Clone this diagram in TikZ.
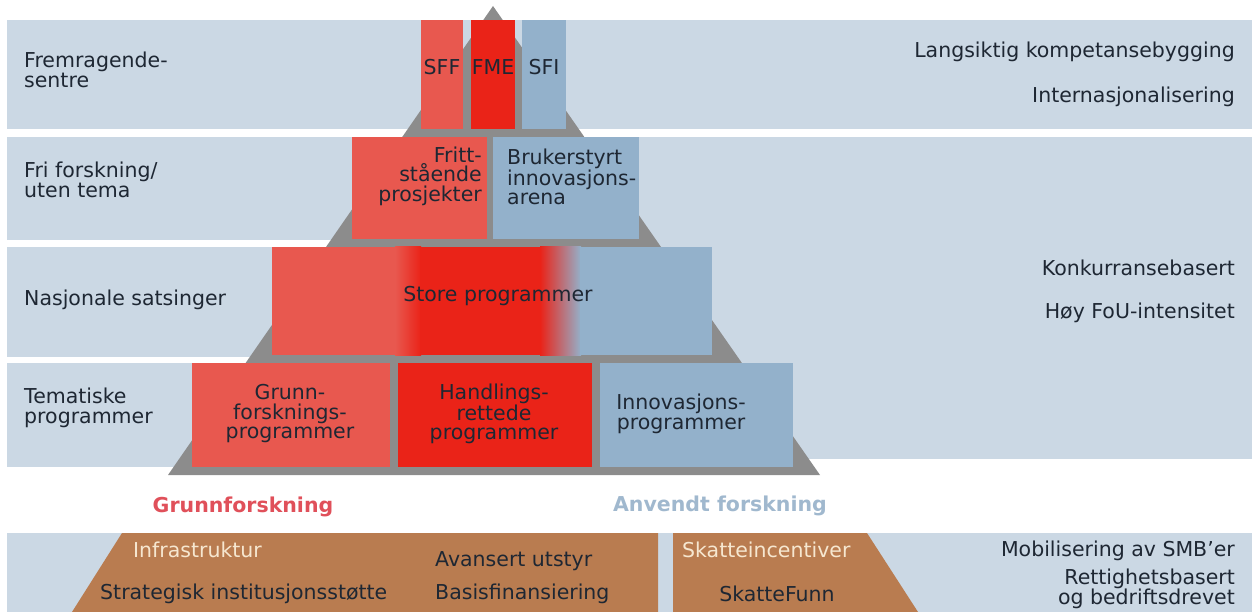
\documentclass[tikz,border=0pt]{standalone}
\usepackage{fontspec}
\setmainfont{DejaVu Sans}
\usetikzlibrary{positioning}
\definecolor{bandblue}{HTML}{CBD8E4}
\definecolor{lightred}{HTML}{E8584F}
\definecolor{deepred}{HTML}{EA2318}
\definecolor{steelblue}{HTML}{93B1CB}
\definecolor{pyrgray}{HTML}{8C8C8C}
\definecolor{taxbrown}{HTML}{B97C50}
\definecolor{cream}{HTML}{F6E7D0}
\definecolor{inkdark}{HTML}{1E2733}
\definecolor{grunnred}{HTML}{E0505A}
\definecolor{anvblue}{HTML}{A0B8CE}
\tikzset{
  lbl/.style={font=\fontsize{20.5}{20}\selectfont, text=inkdark, inner sep=0pt},
  boxtxt/.style={lbl, font=\fontsize{20.5}{19.5}\selectfont},
  headlbl/.style={font=\fontsize{20.5}{20}\selectfont\bfseries, inner sep=0pt},
  taxlbl/.style={lbl, text=cream}
}

\begin{document}
\begin{tikzpicture}[x=1pt,y=-1pt]
        \useasboundingbox (0,0) rectangle (1252,612);
        % bands
        \fill[bandblue] (7,20) rectangle (1252,129);
        \fill[bandblue] (7,137) rectangle (600,240);
        \fill[bandblue] (7,247) rectangle (600,357);
        \fill[bandblue] (7,363) rectangle (600,467);
        \fill[bandblue] (600,137) rectangle (1252,459);
        \fill[bandblue] (7,533) rectangle (1252,612);
        % pyramid
        \fill[pyrgray] (493,6) -- (820,475) -- (168,475) -- cycle;
        \fill[lightred] (421,20) rectangle (463,129);
        \fill[deepred] (471,20) rectangle (515,129);
        \fill[steelblue] (522,20) rectangle (566,129);
        \fill[lightred] (352,137) rectangle (487,239);
        \fill[steelblue] (493,137) rectangle (639,239);
        \fill[lightred] (272,247) rectangle (396,355);
        \shade[left color=lightred, right color=deepred] (395,247) rectangle (421,355);
        \fill[deepred] (420,247) rectangle (541,355);
        \shade[left color=deepred, right color=steelblue] (540,247) rectangle (581,355);
        \fill[steelblue] (580,247) rectangle (712,355);
        \fill[lightred] (192,363) rectangle (390,467);
        \fill[deepred] (398,363) rectangle (592,467);
        \fill[steelblue] (600,363) rectangle (793,467);
        % bottom
        \fill[taxbrown] (122,533) -- (658,533) -- (658,612) -- (72,612) -- cycle;
        \fill[taxbrown] (673,533) -- (867,533) -- (918,612) -- (673,612) -- cycle;

        \node[lbl, anchor=west, align=left] (fremr) at (24,70) {Fremragende-\\sentre};
        \node[lbl, anchor=west, align=left] (fri) at (24,180) {Fri forskning/\\uten tema};
        \node[lbl, anchor=west] (nasj) at (24,300) {Nasjonale satsinger};
        \node[lbl, anchor=west, align=left] (temat) at (24,408) {Tematiske\\programmer};

        \node[boxtxt] (sff) at (442,67) {SFF};
        \node[boxtxt] (fme) at (493,67) {FME};
        \node[boxtxt] (sfi) at (544,67) {SFI};
        \node[boxtxt, anchor=east, align=right] (fritt) at (482,176) {Fritt-\\stående\\prosjekter};
        \node[boxtxt, anchor=west, align=left] (bruker) at (507,177) {Brukerstyrt\\innovasjons-\\arena};
        \node[boxtxt] (store) at (498,296) {Store programmer};
        \node[boxtxt, align=center] (grunnprog) at (290,414) {Grunn-\\forsknings-\\programmer};
        \node[boxtxt, align=center] (handl) at (494,414) {Handlings-\\rettede\\programmer};
        \node[boxtxt, align=center] (innov) at (681,414) {Innovasjons-\\programmer};

        \node[lbl, anchor=east] (langs) at (1235,52) {Langsiktig kompetansebygging};
        \node[lbl, anchor=east] (intern) at (1235,97) {Internasjonalisering};
        \node[lbl, anchor=east] (konk) at (1235,268) {Konkurransebasert};
        \node[lbl, anchor=east] (fou) at (1235,313) {Høy FoU-intensitet};

        \node[headlbl, text=grunnred] (grunnf) at (243,507) {Grunnforskning};
        \node[headlbl, text=anvblue] (anvendt) at (720,506) {Anvendt forskning};

        \node[taxlbl, anchor=west] (infra) at (133,550) {Infrastruktur};
        \node[lbl, anchor=west] (avans) at (435,561) {Avansert utstyr};
        \node[lbl, anchor=west] (strat) at (100,594) {Strategisk institusjonsstøtte};
        \node[lbl, anchor=west] (basis) at (435,594) {Basisfinansiering};
        \node[taxlbl, anchor=west] (skinc) at (682,550) {Skatteincentiver};
        \node[lbl] (skfunn) at (777,594) {SkatteFunn};
        \node[lbl, anchor=east] (mobil) at (1235,551) {Mobilisering av SMB’er};
        \node[lbl, anchor=east, align=right] (rett) at (1235,589) {Rettighetsbasert\\og bedriftsdrevet};
\end{tikzpicture}
\end{document}
